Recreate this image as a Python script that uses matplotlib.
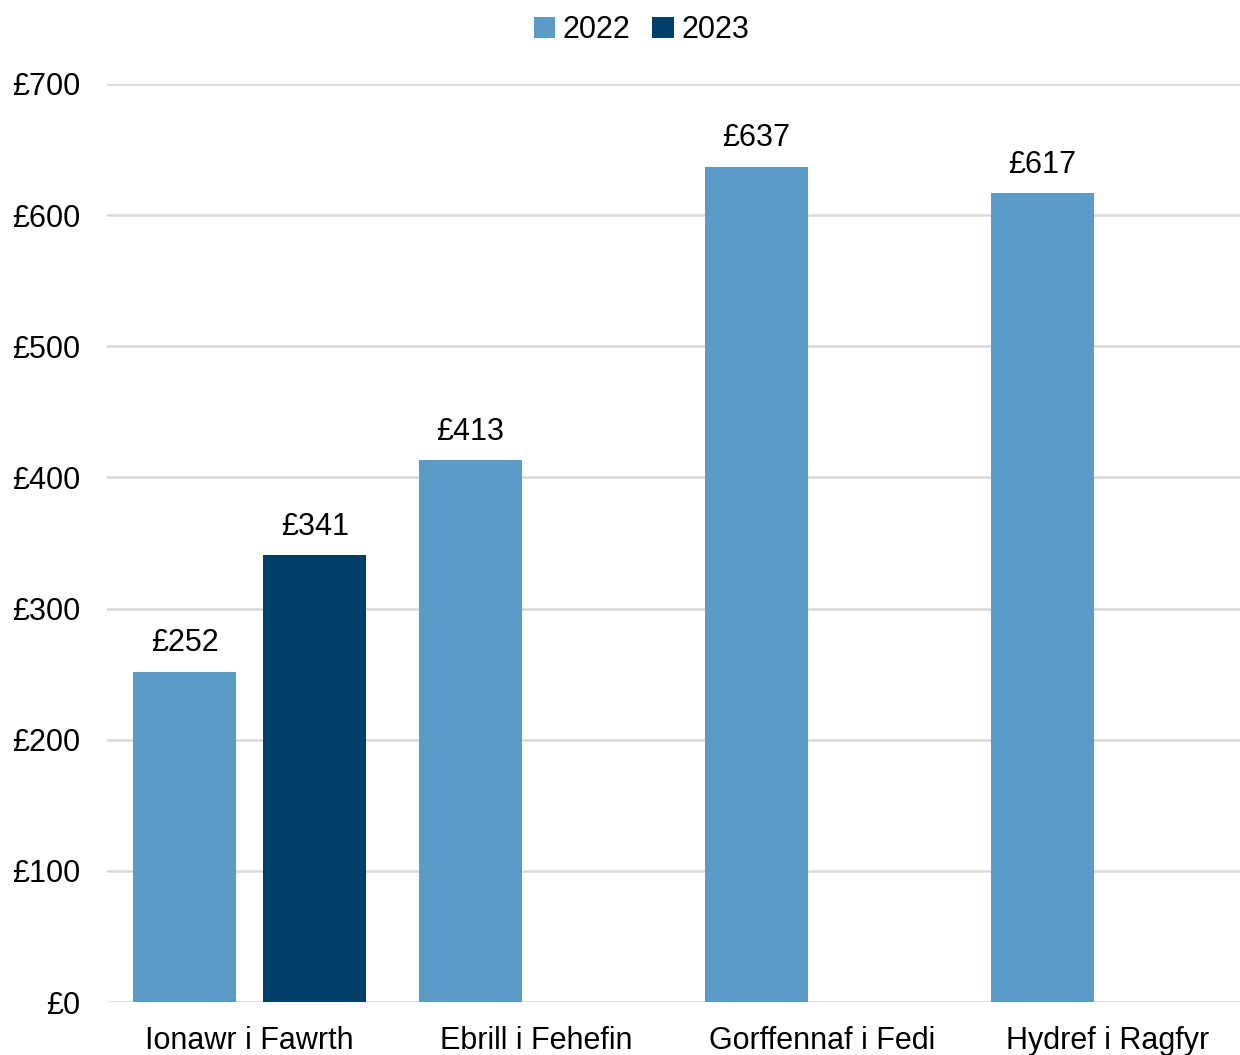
import numpy as np
import matplotlib.pyplot as plt

plt.rcParams['font.family'] = ['Liberation Sans', 'DejaVu Sans']

periods = ["Ionawr i Fawrth", "Ebrill i Fehefin", "Gorffennaf i Fedi", "Hydref i Ragfyr"]
vals_2022 = [252, 413, 637, 617]
vals_2023 = [341, np.nan, np.nan, np.nan]
yticks = [0, 100, 200, 300, 400, 500, 600, 700]

c22 = "#5b9bc8"
c23 = "#023e6a"
fs = 22

fig = plt.figure(figsize=(12.4, 10.55), dpi=100)
ax = fig.add_axes([0.0861, 0.0502, 0.9226, 0.8702])

x = np.arange(len(periods))
w = 0.36
off = 0.228
b1 = ax.bar(x - off, vals_2022, w, color=c22, label="2022", zorder=3)
b2 = ax.bar(x + off, vals_2023, w, color=c23, label="2023", zorder=3)

for bars, vals in [(b1, vals_2022), (b2, vals_2023)]:
    for rect, v in zip(bars, vals):
        if np.isnan(v):
            continue
        ax.text(rect.get_x() + rect.get_width() / 2, v + 10, f"£{v:.0f}",
                ha="center", va="bottom", fontsize=fs)

ax.set_xlim(-0.5, len(periods) - 0.5)
ax.set_ylim(0, 700)
ax.set_yticks(yticks)
ax.set_yticklabels([f"£{t}" for t in yticks], fontsize=fs)
ax.set_xticks(x)
ax.set_xticklabels(periods, fontsize=fs)
ax.tick_params(length=0, pad=19, axis="y")
ax.tick_params(length=0, pad=17, axis="x")
ax.grid(axis="y", color="#d9d9d9", linewidth=1.8, zorder=0)
for s in ax.spines.values():
    s.set_visible(False)

fig.legend(handles=[b1, b2], labels=["2022", "2023"], loc="center",
           bbox_to_anchor=(641.5 / 1240, 1 - 30 / 1055), ncol=2, frameon=False,
           fontsize=fs, handlelength=0.7, handleheight=0.7, handletextpad=0.25,
           columnspacing=0.7, borderaxespad=0)

fig.savefig("out.png", dpi=100)
